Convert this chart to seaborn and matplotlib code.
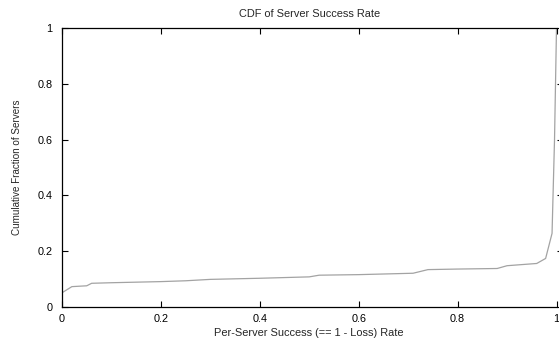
import matplotlib
matplotlib.use("Agg")
import matplotlib.pyplot as plt
import seaborn as sns
import pandas as pd

# Per-server success rate and cumulative fraction of servers
success_rate = [0.0, 0.02, 0.05, 0.06, 0.10, 0.20, 0.25, 0.30, 0.40, 0.50, 0.52,
                0.60, 0.71, 0.74, 0.80, 0.88, 0.90, 0.96, 0.978, 0.991, 0.993,
                0.996, 0.998, 1.0]
cum_fraction = [0.051, 0.073, 0.076, 0.085, 0.087, 0.091, 0.094, 0.099, 0.103,
                0.108, 0.114, 0.116, 0.121, 0.134, 0.136, 0.138, 0.148, 0.156,
                0.174, 0.264, 0.40, 0.60, 0.80, 1.0]
tick_values = [0, 0.2, 0.4, 0.6, 0.8, 1]
tick_labels = ["0", "0.2", "0.4", "0.6", "0.8", "1"]

df = pd.DataFrame({"rate": success_rate, "frac": cum_fraction})

sns.set_theme(style="white")
plt.rcParams["font.family"] = ["Liberation Sans", "DejaVu Sans"]

fig = plt.figure(figsize=(5.59, 3.39), dpi=100)
ax = fig.add_axes([62 / 559, 1 - 307 / 339, 494.5 / 559, 279 / 339])

sns.lineplot(data=df, x="rate", y="frac", ax=ax, estimator=None, sort=False,
             color="#a3a3a3", linewidth=0.9)

ax.set_xlim(0, 1)
ax.set_ylim(0, 1)
ax.set_xticks(tick_values)
ax.set_xticklabels(tick_labels)
ax.set_yticks(tick_values)
ax.set_yticklabels(tick_labels)
ax.tick_params(direction="in", length=4, width=0.8, colors="black",
               labelsize=7.8, top=True, bottom=True, left=True, right=False,
               pad=5)
ax.tick_params(axis="y", pad=7)
for s in ax.spines.values():
    s.set_color("black")
    s.set_linewidth(0.9)
ax.spines["right"].set_visible(False)

# short marks on the right edge, mirrored from the left axis
ax2 = ax.twinx()
ax2.set_ylim(0, 1)
ax2.set_yticks(tick_values)
ax2.set_yticklabels([])
ax2.tick_params(axis="y", direction="out", length=3, width=0.8, colors="black")
for s in ax2.spines.values():
    s.set_visible(False)

ax.set_title("CDF of Server Success Rate", fontsize=7.9, pad=8)
ax.set_xlabel("Per-Server Success (== 1 - Loss) Rate", fontsize=7.9, labelpad=3)
ax.set_ylabel("Cumulative Fraction of Servers", fontsize=7.1, labelpad=11)

fig.savefig("out.png", dpi=100)
